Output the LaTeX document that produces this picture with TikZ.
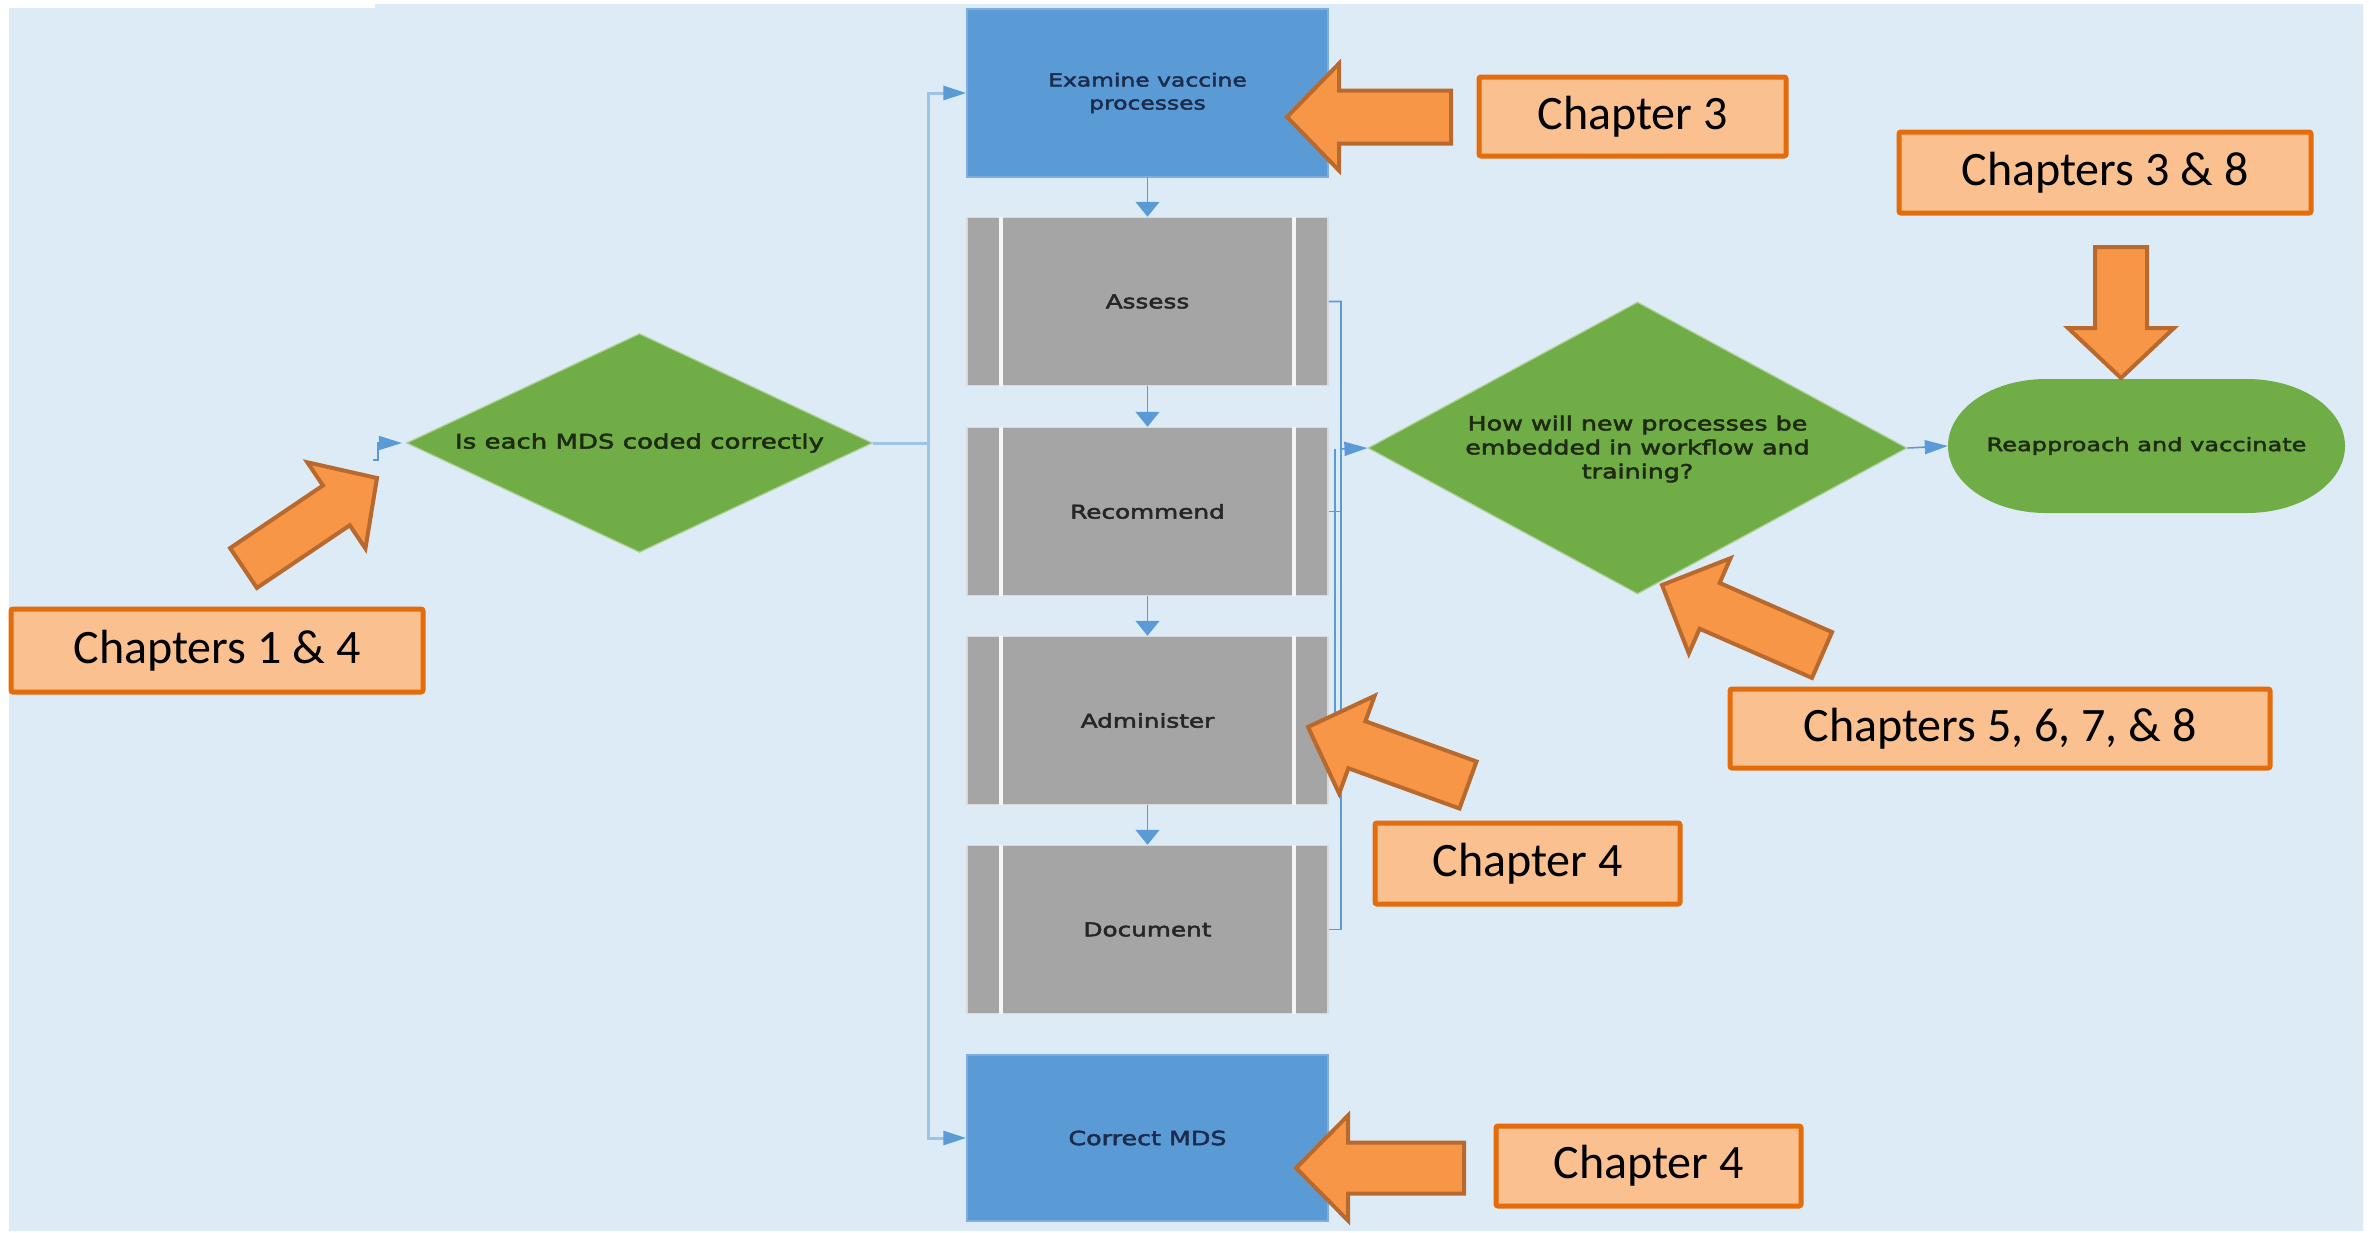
\documentclass[tikz,border=0pt]{standalone}
\usepackage{fontspec}
\setmainfont{Carlito}
\newfontfamily\vf[FakeStretch=1.3,FakeBold=2.6]{DejaVu Sans}
\usetikzlibrary{arrows.meta,calc,shapes.geometric}
\definecolor{bgblue}{HTML}{DDEBF7}
\definecolor{boxblue}{HTML}{5B9BD5}
\definecolor{boxgray}{HTML}{A5A5A5}
\definecolor{dgreen}{HTML}{70AD47}
\definecolor{lineblue}{HTML}{5B9BD5}
\definecolor{paleline}{HTML}{9DC3E6}
\definecolor{calfill}{HTML}{FAC090}
\definecolor{caledge}{HTML}{E46C0A}
\definecolor{arrfill}{HTML}{F79646}
\definecolor{arredge}{HTML}{B8692E}
\definecolor{navytext}{HTML}{1C2C4C}
\definecolor{greentext}{HTML}{1E2B12}
\tikzset{
  bluebox/.style={rectangle, fill=boxblue, draw=boxblue!80!white, line width=1.5pt, minimum width=361pt, minimum height=168pt, inner sep=0pt, text=navytext},
  graybox/.style={rectangle, fill=boxgray, draw=gray!30!white, line width=1.5pt, minimum width=361pt, minimum height=168pt, inner sep=0pt, text=black!85},
  sepline/.style={draw=white!92!gray, line width=4pt},
  decision/.style={diamond, fill=dgreen, draw=dgreen!55!white, line width=1.2pt, inner sep=0pt},
  callout/.style={rectangle, fill=calfill, draw=caledge, line width=5pt, rounded corners=2pt, inner sep=0pt, font=\fontsize{48}{56}\selectfont},
  blockarr/.style={fill=arrfill, draw=arredge, line width=4pt, line join=miter},
  mainline/.style={draw=paleline, line width=3pt},
  thinconn/.style={draw=lineblue, line width=1.6pt},
  htip/.style={-{Triangle[length=23pt,width=14pt,color=lineblue]}},
  vtip/.style={-{Triangle[length=15pt,width=24pt,color=lineblue]}},
}
\newcommand\blockarrow[5]{%
  \path (#1) coordinate (bT) (#2) coordinate (bC);
  \path ($(bT)!#5!(bC)$) coordinate (bH);
  \draw[blockarr] (bT) -- ($(bH)!#4!90:(bT)$) -- ($(bH)!#3!90:(bT)$) -- ($(bC)!#3!90:(bT)$)
     -- ($(bC)!#3!-90:(bT)$) -- ($(bH)!#3!-90:(bT)$) -- ($(bH)!#4!-90:(bT)$) -- cycle;}
\begin{document}
\begin{tikzpicture}[x=1pt,y=-1pt]
\useasboundingbox (0,0) rectangle (2369,1232);
\fill[bgblue] (9,8) -- (375,8) -- (375,4) -- (2363,4) -- (2363,1231) -- (9,1231) -- cycle;

% process column
\node[bluebox] (ex) at (1147.5,93) {};
\node[graybox] (as) at (1147.5,301.5) {};
\node[graybox] (re) at (1147.5,511.5) {};
\node[graybox] (ad) at (1147.5,720.5) {};
\node[graybox] (do) at (1147.5,929.5) {};
\node[bluebox, minimum height=166pt] (cm) at (1147.5,1138) {};
\foreach \n in {as,re,ad,do}{
  \draw[sepline] ([xshift=35pt]\n.north west) -- ([xshift=35pt]\n.south west);
  \draw[sepline] ([xshift=-35pt]\n.north east) -- ([xshift=-35pt]\n.south east);
}
\node[align=center, text=navytext, font=\vf\fontsize{18}{23}\selectfont] (ext) at (ex) {Examine vaccine\\processes};
\node[text=black!85, font=\vf\fontsize{19}{23}\selectfont] (ast) at (as) {Assess};
\node[text=black!85, font=\vf\fontsize{19}{23}\selectfont] (ret) at (re) {Recommend};
\node[text=black!85, font=\vf\fontsize{19}{23}\selectfont] (adt) at (ad) {Administer};
\node[text=black!85, font=\vf\fontsize{19}{23}\selectfont] (dot) at (do) {Document};
\node[text=navytext, font=\vf\fontsize{19.5}{23}\selectfont] (cmt) at (cm) {Correct MDS};

% decisions and terminal
\node[decision, minimum width=466pt, minimum height=219pt] (d1) at (639.5,443) {};
\node[text=greentext, font=\vf\fontsize{20}{24}\selectfont] (d1t) at (d1) {Is each MDS coded correctly};
\node[decision, minimum width=539pt, minimum height=292pt] (d2) at (1637.5,448) {};
\node[align=center, text=greentext, font=\vf\fontsize{19.5}{24}\selectfont] (d2t) at (1637.5,449) {How will new processes be\\embedded in workflow and\\training?};
\fill[dgreen] (2046,379) -- (2247,379) arc[start angle=-90, end angle=90, x radius=98, y radius=67]
   -- (2046,513) arc[start angle=90, end angle=270, x radius=98, y radius=67] -- cycle;
\node[minimum width=397pt, minimum height=134pt, inner sep=0pt] (ov) at (2146.5,446) {};
\node[text=greentext, font=\vf\fontsize{18.5}{23}\selectfont] (ovt) at (ov) {Reapproach and vaccinate};

% connectors
\coordinate (st) at (373,460);
\draw[thinconn, htip, shorten >=4pt] (st) -- (378,460) -- (378,443) -- (d1.west);
\coordinate (split) at (928,443);
\draw[mainline] (d1.east) -- (split);
\draw[mainline, htip] (split) |- (ex.west);
\draw[mainline, htip] (split) |- (cm.west);
\draw[thinconn, vtip] (ex.south) -- (as.north);
\draw[thinconn, vtip] (as.south) -- (re.north);
\draw[thinconn, vtip] (re.south) -- (ad.north);
\draw[thinconn, vtip] (ad.south) -- (do.north);
\coordinate (j1) at (1341,449);
\coordinate (j2) at (1335,449);
\draw[thinconn, htip] (as.east) -| (j1) -- (d2.west);
\draw[thinconn] (re.east) -| (j1);
\draw[thinconn] (ad.east) -| (j2);
\draw[thinconn] (do.east) -| (j1);
\draw[thinconn, htip] (d2.east) -- (ov.west);

% callouts
\node[callout, minimum width=307pt, minimum height=79pt] (c3) at (1632.5,116.5) {Chapter 3};
\node[callout, minimum width=412pt, minimum height=81pt] (c38) at (2105,172.5) {Chapters 3 \& 8};
\node[callout, minimum width=412pt, minimum height=83pt] (c14) at (217,650.5) {Chapters 1 \& 4};
\node[callout, minimum width=305pt, minimum height=81pt] (c4a) at (1527.5,863.5) {Chapter 4};
\node[callout, minimum width=540pt, minimum height=79pt] (c5) at (2000,728.5) {Chapters 5, 6, 7, \& 8};
\node[callout, minimum width=305pt, minimum height=80pt] (c4b) at (1648.5,1166) {Chapter 4};

% block arrows
\blockarrow{377,478}{243.5,568}{24pt}{52pt}{49pt}
\blockarrow{1287,117}{1451,117}{26.5pt}{53.5pt}{52pt}
\blockarrow{1296,1168}{1464,1168}{25.5pt}{52.5pt}{52pt}
\blockarrow{2121,378}{2121,247}{26pt}{53pt}{50pt}
\blockarrow{1308,727}{1468,785}{25pt}{52pt}{52pt}
\blockarrow{1662,585}{1822,655}{25pt}{52pt}{52pt}
\end{tikzpicture}
\end{document}
